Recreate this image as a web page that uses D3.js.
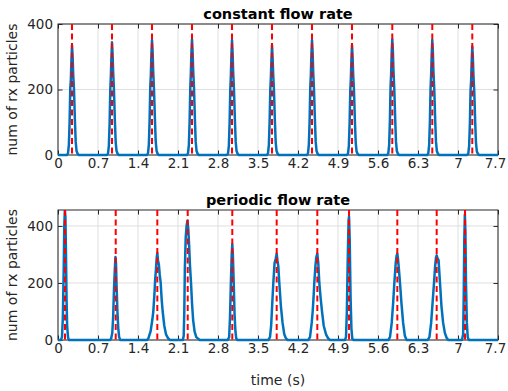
<!DOCTYPE html>
<html>
<head>
<meta charset="UTF-8" />
<title>rx particles: constant vs periodic flow rate</title>
<script src="https://cdn.jsdelivr.net/npm/d3@7"></script>
<style>
    body { margin: 0; background: #fff; }
    svg { display: block; font-family: "DejaVu Sans", sans-serif; }
</style>
</head>
<body>
<div id="chart"></div>
<script>
// tick values and labels
const xTicks = [0, 0.7, 1.4, 2.1, 2.8, 3.5, 4.2, 4.9, 5.6, 6.3, 7, 7.7];
const xTickLabels = ['0', '0.7', '1.4', '2.1', '2.8', '3.5', '4.2', '4.9', '5.6', '6.3', '7', '7.7'];
const yTicks = [0, 200, 400];

// red dashed lines (expected arrival times)
const constantMarkers = [0.245, 0.945, 1.645, 2.345, 3.045, 3.745, 4.445, 5.145, 5.85, 6.55, 7.25];
const periodicMarkers = [0.1225, 1.01, 1.738, 2.27, 3.05, 3.827, 4.538, 5.093, 5.938, 6.627, 7.123];

// constant flow rate: time (s) and received particle counts, one pulse per line
const constantTime = [0,
    0.155, 0.175, 0.19, 0.203, 0.215, 0.225, 0.235, 0.245, 0.255, 0.265, 0.28, 0.295, 0.31, 0.325, 0.345, 0.365,
    0.855, 0.875, 0.89, 0.903, 0.915, 0.925, 0.935, 0.945, 0.955, 0.965, 0.98, 0.995, 1.01, 1.025, 1.045, 1.065,
    1.555, 1.575, 1.59, 1.603, 1.615, 1.625, 1.635, 1.645, 1.655, 1.665, 1.68, 1.695, 1.71, 1.725, 1.745, 1.765,
    2.255, 2.275, 2.29, 2.303, 2.315, 2.325, 2.335, 2.345, 2.355, 2.365, 2.38, 2.395, 2.41, 2.425, 2.445, 2.465,
    2.955, 2.975, 2.99, 3.003, 3.015, 3.025, 3.035, 3.045, 3.055, 3.065, 3.08, 3.095, 3.11, 3.125, 3.145, 3.165,
    3.655, 3.675, 3.69, 3.703, 3.715, 3.725, 3.735, 3.745, 3.755, 3.765, 3.78, 3.795, 3.81, 3.825, 3.845, 3.865,
    4.355, 4.375, 4.39, 4.403, 4.415, 4.425, 4.435, 4.445, 4.455, 4.465, 4.48, 4.495, 4.51, 4.525, 4.545, 4.565,
    5.055, 5.075, 5.09, 5.103, 5.115, 5.125, 5.135, 5.145, 5.155, 5.165, 5.18, 5.195, 5.21, 5.225, 5.245, 5.265,
    5.76, 5.78, 5.795, 5.808, 5.82, 5.83, 5.84, 5.85, 5.86, 5.87, 5.885, 5.9, 5.915, 5.93, 5.95, 5.97,
    6.46, 6.48, 6.495, 6.508, 6.52, 6.53, 6.54, 6.55, 6.56, 6.57, 6.585, 6.6, 6.615, 6.63, 6.65, 6.67,
    7.16, 7.18, 7.195, 7.208, 7.22, 7.23, 7.24, 7.25, 7.26, 7.27, 7.285, 7.3, 7.315, 7.33, 7.35, 7.37,
    7.7];
const constantCount = [0,
    0, 5, 30, 100, 205, 230, 290, 336, 305, 250, 200, 110, 40, 12, 3, 0,
    0, 4, 28, 95, 200, 240, 300, 344, 310, 255, 195, 105, 38, 12, 3, 0,
    0, 5, 32, 105, 210, 245, 310, 351, 320, 260, 200, 115, 42, 13, 3, 0,
    0, 5, 30, 100, 205, 250, 315, 353, 318, 262, 205, 112, 40, 12, 3, 0,
    0, 4, 28, 98, 200, 240, 305, 351, 315, 255, 198, 110, 40, 12, 3, 0,
    0, 5, 30, 100, 200, 235, 290, 336, 300, 250, 195, 105, 38, 12, 3, 0,
    0, 5, 32, 102, 208, 245, 310, 351, 318, 258, 200, 112, 40, 12, 3, 0,
    0, 4, 28, 96, 198, 232, 292, 336, 302, 248, 196, 106, 38, 11, 3, 0,
    0, 5, 30, 102, 210, 248, 315, 353, 320, 262, 202, 112, 40, 12, 3, 0,
    0, 5, 30, 100, 205, 245, 308, 351, 316, 256, 200, 110, 40, 12, 3, 0,
    0, 4, 28, 95, 198, 228, 288, 331, 298, 245, 192, 104, 36, 11, 3, 0,
    0];

// periodic flow rate
const periodicTime = [0,
    0.05, 0.07, 0.085, 0.1, 0.11, 0.12, 0.13, 0.14, 0.15, 0.16, 0.175, 0.19,
    0.91, 0.93, 0.95, 0.965, 0.98, 0.995, 1.005, 1.015, 1.025, 1.04, 1.055, 1.07, 1.09,
    1.56, 1.58, 1.62, 1.65, 1.668, 1.69, 1.7, 1.715, 1.728, 1.738, 1.75, 1.765, 1.78, 1.797, 1.815, 1.832, 1.86, 1.89, 1.93, 1.96,
    2.185, 2.2, 2.21, 2.22, 2.235, 2.25, 2.265, 2.28, 2.295, 2.31, 2.328, 2.345, 2.365, 2.39, 2.42, 2.48,
    2.97, 2.995, 3.01, 3.025, 3.04, 3.05, 3.06, 3.075, 3.09, 3.105, 3.12, 3.14,
    3.68, 3.71, 3.73, 3.75, 3.768, 3.79, 3.81, 3.827, 3.84, 3.855, 3.873, 3.9, 3.93, 3.96, 3.99, 4.02,
    4.38, 4.41, 4.44, 4.457, 4.475, 4.485, 4.505, 4.52, 4.538, 4.555, 4.573, 4.595, 4.62, 4.65, 4.69, 4.73, 4.76,
    5.02, 5.04, 5.055, 5.07, 5.085, 5.093, 5.105, 5.12, 5.135, 5.15, 5.17,
    5.78, 5.81, 5.84, 5.865, 5.886, 5.91, 5.925, 5.938, 5.95, 5.965, 5.985, 6.01, 6.04, 6.07, 6.1,
    6.47, 6.5, 6.53, 6.555, 6.58, 6.6, 6.615, 6.627, 6.645, 6.66, 6.685, 6.71, 6.74, 6.77, 6.8, 6.83,
    7.07, 7.09, 7.1, 7.11, 7.12, 7.13, 7.14, 7.155, 7.17, 7.19,
    7.7];
const periodicCount = [0,
    0, 10, 80, 250, 400, 456, 430, 300, 140, 50, 10, 0,
    0, 5, 25, 80, 180, 250, 291, 270, 190, 100, 40, 10, 0,
    0, 5, 30, 70, 100, 170, 210, 250, 290, 305, 280, 265, 230, 200, 140, 100, 50, 20, 5, 0,
    0, 15, 100, 250, 360, 400, 418, 390, 330, 260, 200, 130, 70, 30, 10, 0,
    0, 10, 80, 200, 300, 336, 300, 200, 90, 30, 5, 0,
    0, 10, 50, 130, 200, 270, 285, 303, 280, 260, 200, 120, 60, 20, 5, 0,
    0, 10, 60, 100, 160, 200, 260, 290, 303, 270, 200, 150, 100, 50, 20, 5, 0,
    0, 10, 100, 280, 420, 432, 350, 150, 40, 5, 0,
    0, 10, 60, 130, 200, 270, 295, 303, 285, 250, 200, 130, 60, 15, 0,
    0, 10, 60, 130, 200, 260, 290, 297, 285, 280, 200, 120, 60, 25, 8, 0,
    0, 20, 150, 350, 440, 380, 200, 60, 10, 0,
    0];

const w = 508;
const h = 391;
const axisColor = '#262626';

const svg = d3.select('#chart')
    .append('svg')
    .attr('width', w)
    .attr('height', h);

function drawPanel(p) {
    const xScale = d3.scaleLinear().domain([0, 7.7]).range([58, 498]);
    const yScale = d3.scaleLinear().domain([0, p.yMax]).range([p.bottom, p.top]);
    const g = svg.append('g');

    // grid
    g.selectAll('.xgrid')
        .data(xTicks)
        .enter()
        .append('line')
        .attr('x1', d => xScale(d))
        .attr('x2', d => xScale(d))
        .attr('y1', p.top)
        .attr('y2', p.bottom)
        .attr('stroke', '#dfdfdf')
        .attr('stroke-width', 1);
    g.selectAll('.ygrid')
        .data(yTicks.filter(d => d <= p.yMax))
        .enter()
        .append('line')
        .attr('x1', 58)
        .attr('x2', 498)
        .attr('y1', d => yScale(d))
        .attr('y2', d => yScale(d))
        .attr('stroke', '#dfdfdf')
        .attr('stroke-width', 1);

    // axes: labelled on bottom/left, tick marks only on top/right
    const xAxis = g.append('g')
        .attr('transform', 'translate(0,' + p.bottom + ')')
        .call(d3.axisBottom(xScale).tickValues(xTicks)
            .tickFormat((d, i) => xTickLabels[i])
            .tickSizeInner(-4.5).tickSizeOuter(0).tickPadding(3.5));
    g.append('g')
        .attr('transform', 'translate(58,0)')
        .call(d3.axisLeft(yScale).tickValues(yTicks)
            .tickSizeInner(-4.5).tickSizeOuter(0).tickPadding(5));
    g.append('g')
        .attr('transform', 'translate(0,' + p.top + ')')
        .call(d3.axisTop(xScale).tickValues(xTicks).tickFormat('')
            .tickSizeInner(-4.5).tickSizeOuter(0));
    g.append('g')
        .attr('transform', 'translate(498,0)')
        .call(d3.axisRight(yScale).tickValues(yTicks).tickFormat('')
            .tickSizeInner(-4.5).tickSizeOuter(0));
    g.selectAll('.domain').remove();
    g.selectAll('.tick line').attr('stroke', axisColor);
    g.selectAll('.tick text')
        .attr('fill', axisColor)
        .style('font-size', '13.5px')
        .style('font-family', '"DejaVu Sans", sans-serif');
    // keep the last label (7.7) inside the page edge
    xAxis.selectAll('.tick:last-of-type text').attr('dx', -3);

    g.append('rect')
        .attr('x', 58)
        .attr('y', p.top)
        .attr('width', 440)
        .attr('height', p.bottom - p.top)
        .attr('fill', 'none')
        .attr('stroke', axisColor)
        .attr('stroke-width', 1);

    // data line
    svg.append('clipPath')
        .attr('id', p.id)
        .append('rect')
        .attr('x', 58)
        .attr('y', p.top)
        .attr('width', 440)
        .attr('height', p.bottom - p.top + 2);

    const line = d3.line()
        .x(d => xScale(d[0]))
        .y(d => yScale(d[1]));
    g.append('path')
        .datum(d3.zip(p.times, p.counts))
        .attr('clip-path', 'url(#' + p.id + ')')
        .attr('d', line)
        .attr('fill', 'none')
        .attr('stroke', '#0072BD')
        .attr('stroke-width', 2.5)
        .attr('stroke-linejoin', 'round');

    g.selectAll('.marker')
        .data(p.markers)
        .enter()
        .append('line')
        .attr('x1', d => xScale(d))
        .attr('x2', d => xScale(d))
        .attr('y1', p.top)
        .attr('y2', p.bottom)
        .attr('stroke', '#ff0000')
        .attr('stroke-width', 2)
        .attr('stroke-dasharray', '6,3.5');

    // title and y label
    g.append('text')
        .attr('x', 278)
        .attr('y', p.top - 5)
        .attr('text-anchor', 'middle')
        .style('font-size', '14.5px')
        .style('font-weight', 'bold')
        .text(p.title);
    g.append('text')
        .attr('transform', 'translate(17,' + (p.top + p.bottom) / 2 + ') rotate(-90)')
        .attr('text-anchor', 'middle')
        .attr('fill', axisColor)
        .style('font-size', '14px')
        .text('num of rx particles');
}

drawPanel({
    id: 'clip-top', title: 'constant flow rate', top: 24, bottom: 155, yMax: 400,
    times: constantTime, counts: constantCount, markers: constantMarkers
});
drawPanel({
    id: 'clip-bottom', title: 'periodic flow rate', top: 210, bottom: 340, yMax: 456,
    times: periodicTime, counts: periodicCount, markers: periodicMarkers
});

svg.append('text')
    .attr('x', 278)
    .attr('y', 385)
    .attr('text-anchor', 'middle')
    .attr('fill', axisColor)
    .style('font-size', '14px')
    .text('time (s)');
</script>
</body>
</html>
